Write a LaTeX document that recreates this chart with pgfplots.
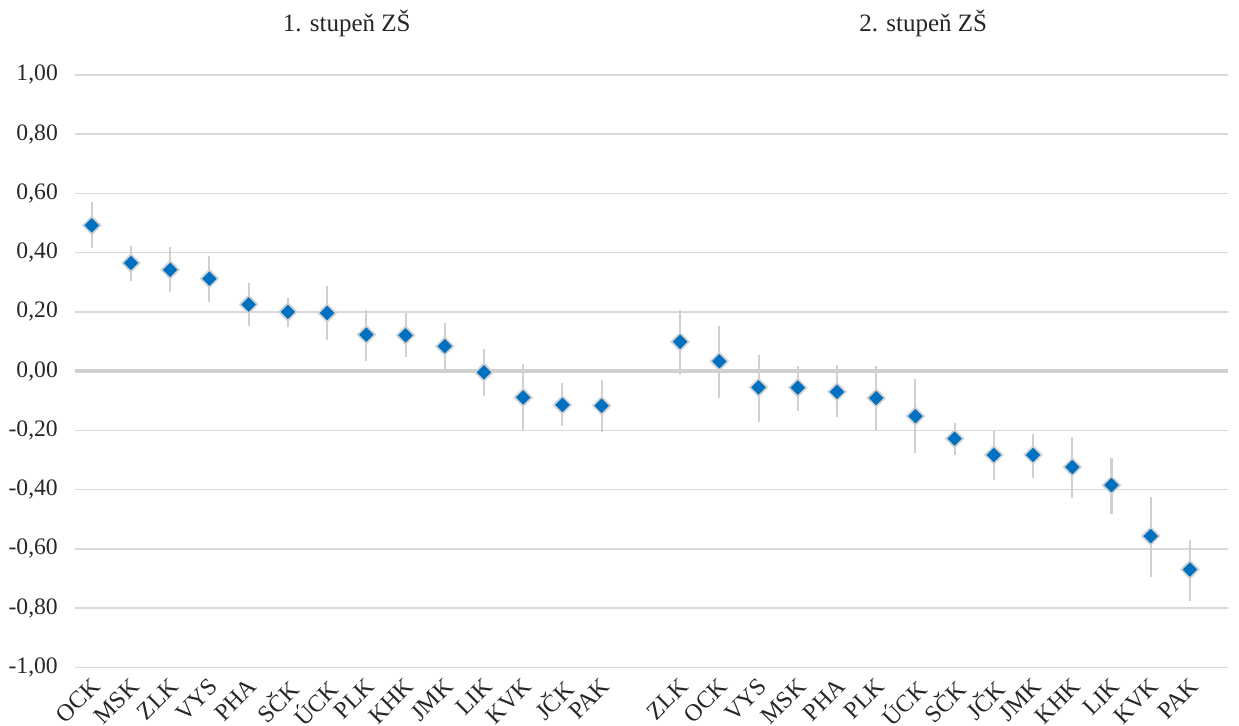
\documentclass[border=0pt]{standalone}
\usepackage{pgfplots}
\pgfplotsset{compat=1.18}
\usepackage{pgfplotstable}
\usepackage{fontspec}
\setmainfont{Liberation Serif}

\definecolor{gridgray}{HTML}{D9D9D9}
\definecolor{zerogray}{HTML}{D0D0D0}
\definecolor{errgray}{HTML}{D0D0D0}
\definecolor{markblue}{HTML}{0070C0}
\definecolor{txt}{HTML}{262626}

% x, y, plus, minus
\pgfplotstableread{
x y ep em
0 0.492 0.079 0.077
1 0.365 0.058 0.062
2 0.342 0.077 0.076
3 0.312 0.078 0.079
4 0.225 0.072 0.072
5 0.200 0.047 0.052
6 0.196 0.092 0.092
7 0.123 0.084 0.088
8 0.121 0.075 0.074
9 0.084 0.077 0.077
10 -0.004 0.078 0.081
11 -0.089 0.113 0.114
12 -0.114 0.073 0.070
13 -0.117 0.087 0.090
}\stupenI

\pgfplotstableread{
x y ep em
15 0.099 0.107 0.112
16 0.033 0.119 0.125
17 -0.055 0.110 0.117
18 -0.056 0.074 0.077
19 -0.070 0.089 0.085
20 -0.091 0.108 0.108
21 -0.152 0.126 0.126
22 -0.228 0.054 0.056
23 -0.283 0.081 0.086
24 -0.283 0.072 0.078
25 -0.324 0.103 0.103
26 -0.385 0.093 0.096
27 -0.557 0.131 0.139
28 -0.670 0.100 0.105
}\stupenII

\begin{document}
\begin{tikzpicture}
\begin{axis}[
    name=ax,
    scale only axis,
    width=508pt, height=261pt,
    xmin=-0.43, xmax=28.97,
    ymin=-1, ymax=1,
    ytick={-1,-0.8,...,1},
    xtick={0,...,13,15,16,...,28},
    xticklabels={OCK,MSK,ZLK,VYS,PHA,SČK,ÚCK,PLK,KHK,JMK,LIK,KVK,JČK,PAK,
                 ZLK,OCK,VYS,MSK,PHA,PLK,ÚCK,SČK,JČK,JMK,KHK,LIK,KVK,PAK},
    axis line style={draw=none},
    major tick length=0pt,
    ymajorgrids,
    grid style={gridgray, line width=0.7pt},
    extra y ticks={0},
    extra y tick labels={},
    extra y tick style={grid style={zerogray, line width=1.9pt}},
    yticklabel style={/pgf/number format/use comma, /pgf/number format/fixed,
        /pgf/number format/fixed zerofill, /pgf/number format/precision=2,
        /pgf/number format/assume math mode=true},
    yticklabel style={anchor=east, xshift=-4pt, font=\fontsize{10.4}{12}\selectfont, text=txt},
    xticklabel style={rotate=45, anchor=north east, font=\fontsize{10.6}{12}\selectfont, text=txt, yshift=1pt},
    clip=false,
]
\addplot[only marks, mark=square*, mark size=2.7pt,
    mark options={rotate=45, fill=markblue, draw=zerogray, line width=0.75pt},
    error bars/.cd, y dir=both, y explicit,
    error mark=none, error bar style={errgray, line width=0.9pt}]
    table[x=x, y=y, y error plus=ep, y error minus=em] {\stupenI};
\addplot[only marks, mark=square*, mark size=2.7pt,
    mark options={rotate=45, fill=markblue, draw=zerogray, line width=0.75pt},
    error bars/.cd, y dir=both, y explicit,
    error mark=none, error bar style={errgray, line width=0.9pt}]
    table[x=x, y=y, y error plus=ep, y error minus=em] {\stupenII};
\node[text=txt, font=\fontsize{11}{13}\selectfont, anchor=base] at ([yshift=19pt]axis cs:6.5,1) {1. stupeň ZŠ};
\node[text=txt, font=\fontsize{11}{13}\selectfont, anchor=base] at ([yshift=19pt]axis cs:21.2,1) {2. stupeň ZŠ};
\end{axis}
\pgfresetboundingbox
\path[use as bounding box] ([xshift=-33pt,yshift=-25.6pt]ax.south west) rectangle ([xshift=4.85pt,yshift=33pt]ax.north east);
\end{tikzpicture}
\end{document}
